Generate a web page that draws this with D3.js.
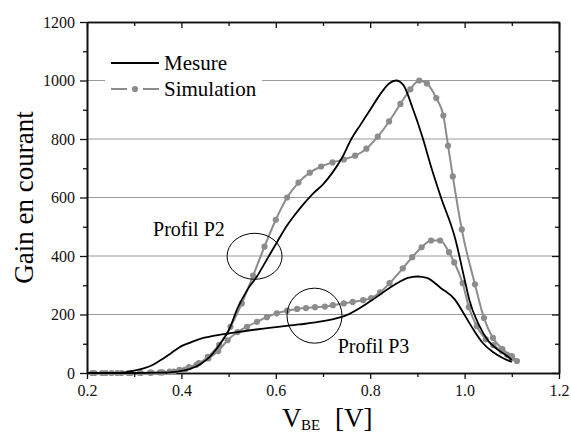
<!DOCTYPE html>
<html><head><meta charset="utf-8">
<script src="https://cdn.jsdelivr.net/npm/d3@7"></script>
<style>body{margin:0;background:#fff}svg{display:block}</style>
</head><body><svg id="chart" width="571" height="435"></svg>
<script>
// Axis ticks
const xMajorTicks = [0.2, 0.4, 0.6, 0.8, 1.0, 1.2];
const xTickLabels = ["0.2", "0.4", "0.6", "0.8", "1.0", "1.2"];
const xMinorTicks = [0.3, 0.5, 0.7, 0.9, 1.1];
const yMajorTicks = [0, 200, 400, 600, 800, 1000, 1200];
const yTickLabels = ["0", "200", "400", "600", "800", "1000", "1200"];
const yMinorTicks = [100, 300, 500, 700, 900, 1100];
const gridValues = [200, 400, 600, 800, 1000];

// Measured current gain, profile P2 (upper curve)
const mesureP2V = [0.20,0.25,0.30,0.35,0.38,0.40,0.42,0.44,0.46,0.48,0.50,0.52,0.54,0.56,0.58,0.60,0.62,0.64,0.66,0.68,0.70,0.72,0.74,0.76,0.78,0.80,0.82,0.84,0.855,0.87,0.89,0.91,0.93,0.95,0.98,1.00,1.01,1.03,1.05,1.07,1.09,1.10];
const mesureP2G = [0,0,0,1,3,7,15,30,55,95,145,225,285,330,385,440,495,540,580,615,645,685,735,800,850,900,950,990,1000,985,905,810,700,600,460,320,250,165,110,80,58,45];

// Measured current gain, profile P3 (lower curve)
const mesureP3V = [0.20,0.26,0.28,0.30,0.32,0.34,0.36,0.38,0.40,0.42,0.44,0.46,0.48,0.50,0.55,0.60,0.65,0.70,0.75,0.80,0.85,0.88,0.90,0.92,0.95,0.98,1.00,1.02,1.04,1.06,1.08,1.10];
const mesureP3G = [0,0,2,8,16,28,48,70,92,105,117,124,130,135,147,157,166,177,198,245,300,325,330,325,290,250,198,145,100,72,52,38];

// Simulated current gain, profile P2
const simP2V = [0.216,0.240,0.264,0.288,0.312,0.336,0.360,0.384,0.408,0.432,0.456,0.480,0.504,0.528,0.552,0.576,0.600,0.624,0.648,0.672,0.696,0.720,0.744,0.768,0.792,0.816,0.840,0.864,0.885,0.904,0.920,0.940,0.955,0.965,0.975,0.994,1.022,1.041,1.060,1.080,1.100,1.111];
const simP2G = [0,0,0,0,0,1,2,5,12,28,55,96,158,238,333,432,524,600,651,685,706,720,730,743,767,808,860,920,970,1000,990,940,880,777,672,491,303,188,120,82,58,41];

// Simulated current gain, profile P3
const simP3V = [0.211,0.232,0.252,0.273,0.293,0.314,0.334,0.355,0.375,0.396,0.416,0.437,0.457,0.478,0.498,0.519,0.539,0.560,0.581,0.602,0.624,0.645,0.664,0.683,0.704,0.721,0.744,0.763,0.785,0.802,0.821,0.841,0.869,0.889,0.909,0.929,0.948,0.967,0.978,0.996,1.009,1.026,1.045,1.061,1.079,1.090,1.100];
const simP3G = [0,0,0,0,0,0,1,2,5,11,20,34,50,75,112,140,158,175,191,204,213,219,222,225,227,232,238,243,249,256,276,307,358,396,430,453,453,413,378,307,225,160,115,95,75,62,50];

const legendLabels = ["Mesure", "Simulation"];
const notes = [
  {text: "Profil P2", v: 0.34, g: 467, cv: 0.555, cg: 399, rx: 27.5, ry: 23},
  {text: "Profil P3", v: 0.731, g: 70, cv: 0.682, cg: 196, rx: 27.5, ry: 27.5}
];

const serif = "'Liberation Serif', 'Times New Roman', Times, serif";
const svg = d3.select("#chart");
const mLeft = 87, mRight = 559, mTop = 22, mBottom = 373;

const x = d3.scaleLinear().domain([0.2, 1.2]).range([mLeft, mRight]);
const y = d3.scaleLinear().domain([0, 1200]).range([mBottom, mTop]);

// horizontal grid
svg.append("g").selectAll("line").data(gridValues).join("line")
  .attr("x1", mLeft).attr("x2", mRight)
  .attr("y1", d => y(d)).attr("y2", d => y(d))
  .attr("stroke", "#9a9a9a").attr("stroke-width", 1);

// legend background hides the grid behind it
svg.append("rect").attr("x", 105).attr("y", 50).attr("width", 157).attr("height", 50).attr("fill", "#fff");

// axes: labelled on bottom/left, ticks outward; mirrored on top/right, ticks inward
function styleAxis(g) {
  g.attr("font-family", serif);
  g.selectAll("path").attr("stroke", "#111").attr("stroke-width", 1.6);
  g.selectAll("line").attr("stroke", "#111").attr("stroke-width", 1.3);
  g.selectAll("text").style("font-family", serif).attr("font-size", 16).attr("fill", "#111");
}
svg.append("g").attr("transform", `translate(0,${mBottom})`)
  .call(d3.axisBottom(x).tickValues(xMajorTicks).tickFormat((d, i) => xTickLabels[i]).tickSize(6).tickSizeOuter(0).tickPadding(6)).call(styleAxis);
svg.append("g").attr("transform", `translate(0,${mBottom})`)
  .call(d3.axisBottom(x).tickValues(xMinorTicks).tickFormat("").tickSize(4).tickSizeOuter(0)).call(styleAxis);
svg.append("g").attr("transform", `translate(${mLeft},0)`)
  .call(d3.axisLeft(y).tickValues(yMajorTicks).tickFormat((d, i) => yTickLabels[i]).tickSize(7).tickSizeOuter(0).tickPadding(5)).call(styleAxis);
svg.append("g").attr("transform", `translate(${mLeft},0)`)
  .call(d3.axisLeft(y).tickValues(yMinorTicks).tickFormat("").tickSize(4).tickSizeOuter(0)).call(styleAxis);
svg.append("g").attr("transform", `translate(0,${mTop})`)
  .call(d3.axisBottom(x).tickValues(xMajorTicks).tickFormat("").tickSize(6).tickSizeOuter(0)).call(styleAxis);
svg.append("g").attr("transform", `translate(0,${mTop})`)
  .call(d3.axisBottom(x).tickValues(xMinorTicks).tickFormat("").tickSize(4).tickSizeOuter(0)).call(styleAxis);
svg.append("g").attr("transform", `translate(${mRight},0)`)
  .call(d3.axisLeft(y).tickValues(yMajorTicks).tickFormat("").tickSize(7).tickSizeOuter(0)).call(styleAxis);
svg.append("g").attr("transform", `translate(${mRight},0)`)
  .call(d3.axisLeft(y).tickValues(yMinorTicks).tickFormat("").tickSize(4).tickSizeOuter(0)).call(styleAxis);

const line = d3.line().x(d => x(d[0])).y(d => y(d[1])).curve(d3.curveMonotoneX);
const zipPts = (vs, gs) => vs.map((v, i) => [v, gs[i]]);

const grey = "#8c8c8c";
[[simP2V, simP2G], [simP3V, simP3G]].forEach(([vs, gs]) => {
  const pts = zipPts(vs, gs);
  svg.append("path").attr("d", line(pts)).attr("fill", "none").attr("stroke", grey).attr("stroke-width", 2);
  svg.append("g").selectAll("circle").data(pts).join("circle")
    .attr("cx", d => x(d[0])).attr("cy", d => y(d[1])).attr("r", 3.1).attr("fill", grey);
});
[[mesureP2V, mesureP2G], [mesureP3V, mesureP3G]].forEach(([vs, gs]) => {
  svg.append("path").attr("d", line(zipPts(vs, gs))).attr("fill", "none").attr("stroke", "#000").attr("stroke-width", 1.8);
});

// profile annotations
notes.forEach(n => {
  svg.append("ellipse").attr("cx", x(n.cv)).attr("cy", y(n.cg)).attr("rx", n.rx).attr("ry", n.ry)
    .attr("fill", "none").attr("stroke", "#000").attr("stroke-width", 1);
  svg.append("text").attr("x", x(n.v)).attr("y", y(n.g)).style("font-family", serif).attr("font-size", 20).text(n.text);
});

// legend
const lg = svg.append("g");
lg.append("line").attr("x1", 111).attr("x2", 159).attr("y1", 63).attr("y2", 63).attr("stroke", "#000").attr("stroke-width", 1.8);
lg.append("line").attr("x1", 111).attr("x2", 127).attr("y1", 89).attr("y2", 89).attr("stroke", grey).attr("stroke-width", 2);
lg.append("line").attr("x1", 143).attr("x2", 159).attr("y1", 89).attr("y2", 89).attr("stroke", grey).attr("stroke-width", 2);
lg.append("circle").attr("cx", 135).attr("cy", 89).attr("r", 3.1).attr("fill", grey);
lg.selectAll("text").data(legendLabels).join("text")
  .attr("x", 164).attr("y", (d, i) => 70 + i * 26)
  .style("font-family", serif).attr("font-size", 21).text(d => d);

// axis titles
svg.append("text").attr("transform", `translate(33,${(mTop + mBottom) / 2}) rotate(-90)`)
  .attr("text-anchor", "middle").style("font-family", serif).attr("font-size", 27).text("Gain en courant");
const xt = svg.append("text").style("font-family", serif).attr("font-size", 27).attr("y", 427);
xt.append("tspan").attr("x", 282).text("V");
xt.append("tspan").attr("x", 301).attr("dy", 3).attr("font-size", 15).text("BE");
xt.append("tspan").attr("x", 335).attr("dy", -3).text("[V]");
</script></body></html>
